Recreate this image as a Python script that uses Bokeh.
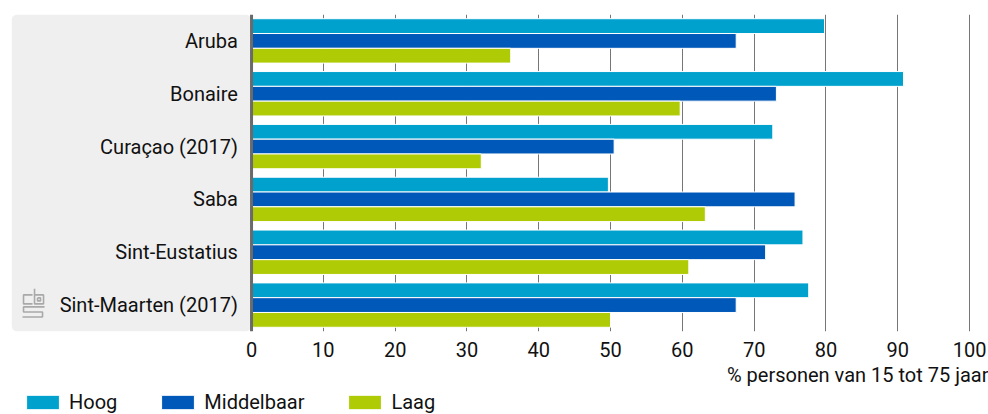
from bokeh.plotting import figure
from bokeh.layouts import column
from bokeh.models import (ColumnDataSource, FactorRange, FixedTicker, Span, BoxAnnotation,
                          Title, Legend, LegendItem)
from bokeh.transform import dodge
from bokeh.core.properties import value
from bokeh.embed import file_html
from bokeh.resources import INLINE

countries = ["Aruba", "Bonaire", "Curaçao (2017)", "Saba", "Sint-Eustatius", "Sint-Maarten (2017)"]
hoog = [79.8, 90.8, 72.6, 49.7, 76.8, 77.6]
middelbaar = [67.5, 73.1, 50.5, 75.7, 71.6, 67.5]
laag = [36.1, 59.7, 32.0, 63.2, 60.9, 50.0]
series = ["Hoog", "Middelbaar", "Laag"]
colors = ["#00a1cd", "#0058b8", "#afcb05"]
x_ticks = [0, 10, 20, 30, 40, 50, 60, 70, 80, 90, 100]
axis_title = "% personen van 15 tot 75 jaar"

FONT = "Roboto"
FS = "20px"
TXT = "#111111"

src = ColumnDataSource(dict(country=countries, Hoog=hoog, Middelbaar=middelbaar, Laag=laag,
                            lx=[-1.9] * len(countries)))

X0, X1 = -33.43, 102.64
p = figure(width=988, height=390, output_backend="svg", toolbar_location=None,
           x_range=(X0, X1), y_range=FactorRange(*reversed(countries), range_padding=0),
           y_axis_location=None, min_border_left=11, min_border_right=0, min_border_top=14,
           min_border_bottom=59)
p.outline_line_color = None
p.background_fill_color = "white"
p.border_fill_color = "white"

# grey label panel
panel_kw = dict(left=X0, right=0, fill_color="#efefef", fill_alpha=1, line_color=None,
                level="underlay")
if "border_radius" in BoxAnnotation.properties():
    panel_kw["border_radius"] = 6
p.add_layout(BoxAnnotation(**panel_kw))

# grid
p.xaxis.ticker = FixedTicker(ticks=x_ticks)
p.xgrid.ticker = FixedTicker(ticks=x_ticks[1:])
p.xgrid.grid_line_color = "#767676"
p.xgrid.grid_line_width = 1
p.ygrid.grid_line_color = None

offsets = [0.28, 0.0, -0.28]
for s, c, off in zip(series, colors, offsets):
    p.hbar(y=dodge("country", off, range=p.y_range), left=0, right=s, height=0.28,
           source=src, fill_color=c, line_color="white", line_width=1)

# category labels
p.text(x="lx", y="country", text="country", source=src, text_align="right",
       text_baseline="middle", text_font=value(FONT), text_font_size=FS, text_color=TXT)

# axis line at zero
p.add_layout(Span(location=0, dimension="height", line_color="#6a6a6a", line_width=3))

# cbs logo (decoration), pixel -> data helpers
def px2x(px):
    return (px - 251) / 7.18

def py2y(py):
    return (330.5 - py) / 52.67

logo = [
    [(32, 294), (23, 294), (23, 303), (32, 303)],
    [(34, 288), (34, 303), (43, 303), (43, 294), (34, 294)],
    [(37, 297), (40, 297), (40, 300), (37, 300), (37, 297)],
    [(44, 306), (23, 306), (23, 311), (42, 311), (42, 316), (22, 316)],
]
p.multi_line(xs=[[px2x(a) for a, b in seg] for seg in logo],
             ys=[[py2y(b) for a, b in seg] for seg in logo],
             line_color="#a9a9a9", line_width=1.6)

# x axis
ax = p.xaxis[0]
ax.axis_line_color = None
ax.major_tick_line_color = None
ax.minor_tick_line_color = None
ax.major_tick_out = 0
ax.major_label_standoff = 10
ax.major_label_text_font = FONT
ax.major_label_text_font_size = FS
ax.major_label_text_color = TXT

p.add_layout(Title(text=axis_title, align="right", text_font=FONT, text_font_size=FS,
                   text_font_style="normal", text_color=TXT, standoff=3, offset=0), "below")

# legend strip (proxy renderers lie outside the strip's visible range)
pl = figure(width=988, height=24, output_backend="svg", toolbar_location=None,
            x_range=(0, 1), y_range=(0, 1), x_axis_location=None, y_axis_location=None,
            min_border=0)
pl.outline_line_color = None
pl.xgrid.visible = False
pl.ygrid.visible = False
items = []
for s, c in zip(series, colors):
    r = pl.hbar(y=[-5], left=[0], right=[0], height=0.5, fill_color=c, line_color="white",
                line_width=1)
    items.append(LegendItem(label=s, renderers=[r]))
legend = Legend(items=items, orientation="horizontal", location=(11, 0), glyph_width=41,
                glyph_height=18, label_standoff=6, spacing=40, padding=0, margin=0,
                border_line_color=None, background_fill_alpha=0,
                label_text_font=FONT, label_text_font_size=FS, label_text_color=TXT)
pl.add_layout(legend, "center")

open("out.html", "w").write(file_html(column(p, pl, spacing=0), INLINE))
